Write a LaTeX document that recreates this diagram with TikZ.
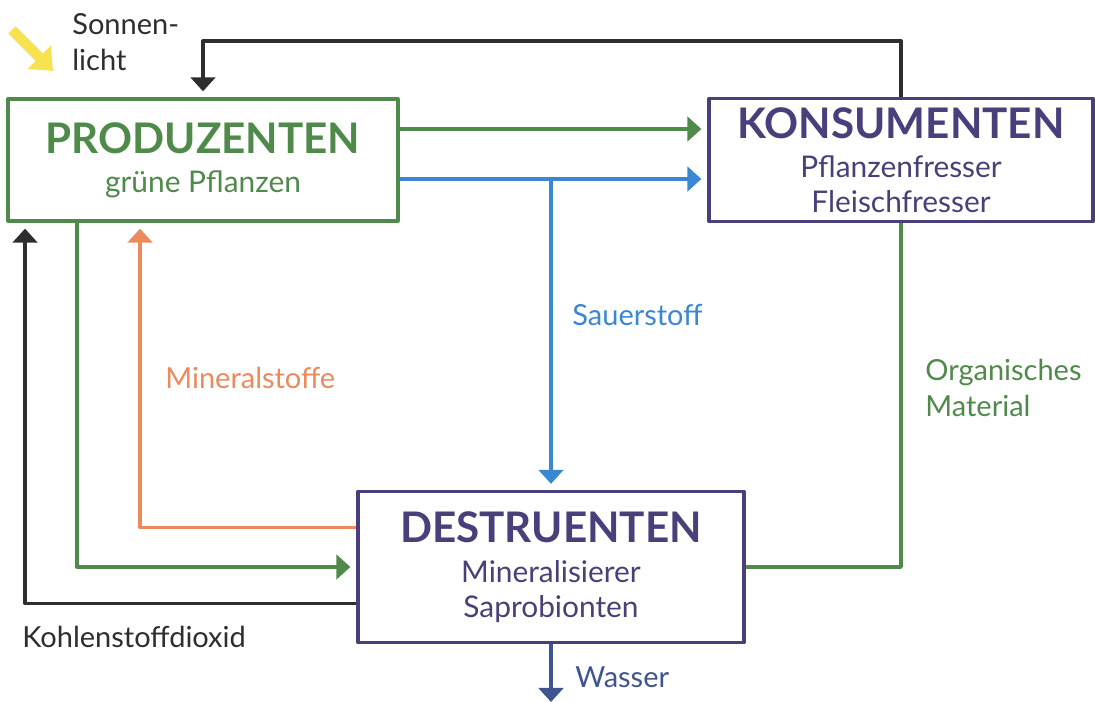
\documentclass[tikz,border=0pt]{standalone}
\usepackage{fontspec}
\setmainfont{Lato}
\usetikzlibrary{arrows.meta}
\definecolor{gruen}{HTML}{4F8A4B}
\definecolor{lila}{HTML}{4A3F7A}
\definecolor{blau}{HTML}{3B87D4}
\definecolor{orangeton}{HTML}{EC8A5C}
\definecolor{dunkel}{HTML}{2E2E2E}
\definecolor{gelb}{HTML}{F7E34F}
\definecolor{wasserblau}{HTML}{40558F}
\newcommand{\titel}[1]{{\fontsize{24}{30}\selectfont\bfseries #1}}
\begin{document}
\begin{tikzpicture}[x=0.02cm,y=-0.02cm,line join=round,
  >={Triangle[width=14pt,length=8pt]},
  box/.style={draw,line width=1.9pt,align=center,inner sep=0pt,font=\fontsize{17}{20}\selectfont},
  pfeil/.style={line width=1.9pt,->,shorten >=0.12cm},
  lbl/.style={font=\fontsize{16.5}{20.5}\selectfont,anchor=west,align=left,inner sep=0pt}]
 \useasboundingbox (0,0) rectangle (1095,702);
 % Kaestchen
 \node[box,gruen,minimum width=7.8cm,minimum height=2.44cm] (P) at (203,160) {\titel{PRODUZENTEN}\\[2pt]grüne Pflanzen};
 \node[box,lila,minimum width=7.68cm,minimum height=2.46cm] (K) at (901,160) {\titel{KONSUMENTEN}\\[2pt]Pflanzenfresser\\Fleischfresser};
 \node[box,lila,minimum width=7.72cm,minimum height=3.02cm] (D) at (551,567) {\titel{DESTRUENTEN}\\[3pt]Mineralisierer\\Saprobionten};
 % Pfeile
 \coordinate (oben) at (0,41);
 \coordinate (s) at ([yshift=-0.38cm]P.east);
 \coordinate (w) at (551,702);
 \draw[pfeil,gruen] ([yshift=0.62cm]P.east) -- ([yshift=0.62cm]K.west);
 \draw[pfeil,blau] (s) -- ([yshift=-0.38cm]K.west);
 \draw[pfeil,blau] (s -| D.north) -- (D.north);
 \draw[pfeil,dunkel] (K.north) -- (K.north |- oben) -| (P.north);
 \draw[pfeil,gruen] ([xshift=-2.52cm]P.south) |- (D.west);
 \draw[pfeil,orangeton] ([yshift=0.79cm]D.west) -| ([xshift=-1.26cm]P.south);
 \draw[pfeil,dunkel] ([yshift=-0.73cm]D.west) -| ([xshift=-3.56cm]P.south);
 \draw[gruen,line width=1.9pt] (K.south) |- (D.east);
 \draw[pfeil,wasserblau,shorten >=0pt] (D.south) -- (D.south |- w);
 % Sonne
 \coordinate (sonne1) at (12,30);
 \coordinate (sonne2) at (53,71);
 \draw[gelb,line width=6pt,-{Triangle[width=18pt,length=11pt]}] (sonne1) -- (sonne2);
 % Beschriftung
 \node[lbl,dunkel] (licht) at (72,42) {Sonnen-\\licht};
 \node[lbl,blau] (o2) at (572,315) {Sauerstoff};
 \node[lbl,orangeton] (min) at (165,378) {Mineralstoffe};
 \node[lbl,gruen] (org) at (925,388) {Organisches\\Material};
 \node[lbl,dunkel] (co2) at (22,637) {Kohlenstoffdioxid};
 \node[lbl,wasserblau] (h2o) at (575,677) {Wasser};
\end{tikzpicture}
\end{document}
